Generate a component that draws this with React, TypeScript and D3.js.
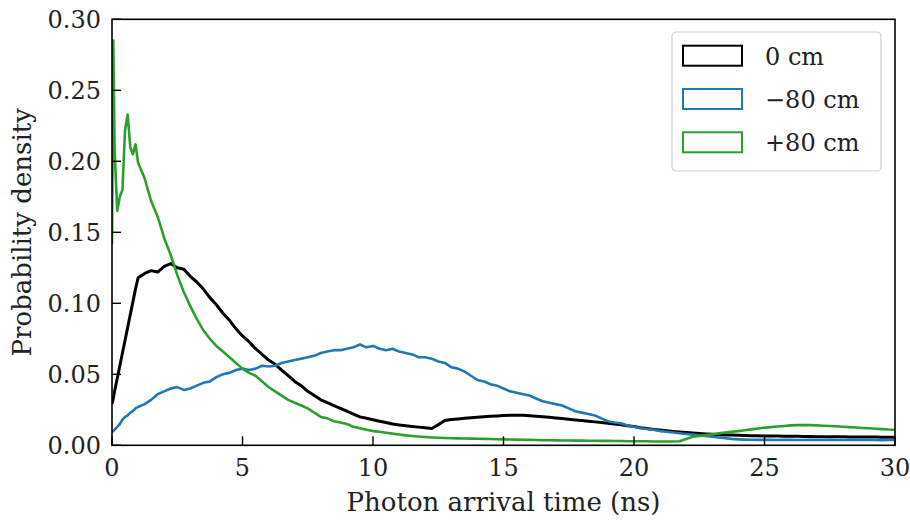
import React from "react";
import * as d3 from "d3";

// Bin times (ns): fine spacing over the first nanosecond, then 0.25 ns
const timeNs: number[] = [
  0, 0.05, 0.1, 0.2, 0.3, 0.4, 0.5, 0.6, 0.7, 0.8, 0.9,
  1, 1.25, 1.5, 1.75, 2, 2.25, 2.5, 2.75, 3, 3.25, 3.5, 3.75,
  4, 4.25, 4.5, 4.75, 5, 5.25, 5.5, 5.75, 6, 6.25, 6.5, 6.75,
  7, 7.25, 7.5, 7.75, 8, 8.25, 8.5, 8.75, 9, 9.25, 9.5, 9.75,
  10, 10.25, 10.5, 10.75, 11, 11.25, 11.5, 11.75, 12, 12.25, 12.5, 12.75,
  13, 13.25, 13.5, 13.75, 14, 14.25, 14.5, 14.75, 15, 15.25, 15.5, 15.75,
  16, 16.25, 16.5, 16.75, 17, 17.25, 17.5, 17.75, 18, 18.25, 18.5, 18.75,
  19, 19.25, 19.5, 19.75, 20, 20.25, 20.5, 20.75, 21, 21.25, 21.5, 21.75,
  22, 22.25, 22.5, 22.75, 23, 23.25, 23.5, 23.75, 24, 24.25, 24.5, 24.75,
  25, 25.25, 25.5, 25.75, 26, 26.25, 26.5, 26.75, 27, 27.25, 27.5, 27.75,
  28, 28.25, 28.5, 28.75, 29, 29.25, 29.5, 29.75, 30,
];

// Probability density, source at 0 cm
const density0cm: number[] = [
  0.029, 0.033, 0.038, 0.047, 0.056, 0.065, 0.074, 0.083, 0.092, 0.101, 0.110,
  0.118, 0.121, 0.123, 0.122,
  0.126, 0.128, 0.125, 0.124,
  0.119, 0.115, 0.110, 0.104,
  0.099, 0.093, 0.088, 0.082,
  0.077, 0.073, 0.068, 0.064,
  0.060, 0.057, 0.053, 0.049,
  0.045, 0.042, 0.038, 0.035,
  0.032, 0.030, 0.028, 0.026,
  0.024, 0.022, 0.020, 0.019,
  0.018, 0.017, 0.016, 0.015,
  0.0143, 0.0137, 0.0132, 0.0128,
  0.0124, 0.0118, 0.0145, 0.0175,
  0.0182, 0.0186, 0.0190, 0.0194,
  0.0198, 0.0201, 0.0204, 0.0207,
  0.0210, 0.0212, 0.0212, 0.0211,
  0.0208, 0.0205, 0.0201, 0.0197,
  0.0192, 0.0188, 0.0183, 0.0179,
  0.0174, 0.0169, 0.0165, 0.0160,
  0.0156, 0.0150, 0.0144, 0.0138,
  0.0132, 0.0124, 0.0118, 0.0112,
  0.0107, 0.0102, 0.0098, 0.0094,
  0.0090, 0.0087, 0.0083, 0.0080,
  0.0077, 0.0075, 0.0073, 0.0072,
  0.0070, 0.0069, 0.0068, 0.0067,
  0.0066, 0.0065, 0.0065, 0.0064,
  0.0063, 0.0063, 0.0062, 0.0062,
  0.0061, 0.0061, 0.0060, 0.0060,
  0.0060, 0.0059, 0.0059, 0.0058,
  0.0058, 0.0058, 0.0057, 0.0057,
  0.0057,
];

// Probability density, source at -80 cm
const densityMinus80: number[] = [
  0.0095, 0.010, 0.011, 0.013, 0.015, 0.018, 0.020, 0.021, 0.023, 0.024, 0.026,
  0.027, 0.029, 0.032, 0.036,
  0.038, 0.040, 0.041, 0.039,
  0.040, 0.042, 0.044, 0.045,
  0.048, 0.050, 0.051, 0.053,
  0.054, 0.053, 0.054, 0.056,
  0.0555, 0.056, 0.058, 0.059,
  0.060, 0.061, 0.062, 0.063,
  0.065, 0.066, 0.067, 0.067,
  0.068, 0.069, 0.071, 0.069,
  0.070, 0.068, 0.067, 0.068,
  0.066, 0.065, 0.064, 0.062,
  0.062, 0.061, 0.059, 0.058,
  0.055, 0.054, 0.052, 0.049,
  0.046, 0.045, 0.043, 0.042,
  0.040, 0.038, 0.037, 0.036,
  0.035, 0.033, 0.031, 0.030,
  0.029, 0.028, 0.026, 0.024,
  0.023, 0.022, 0.021, 0.019,
  0.017, 0.016, 0.0155, 0.014,
  0.013, 0.012, 0.0115, 0.011,
  0.010, 0.0095, 0.009, 0.0085,
  0.008, 0.0075, 0.007, 0.0065,
  0.006, 0.0055, 0.005, 0.0045,
  0.0042, 0.0040, 0.0039, 0.0038,
  0.0038, 0.0038, 0.0037, 0.0038,
  0.0038, 0.0037, 0.0037, 0.0038,
  0.0037, 0.0037, 0.0038, 0.0037,
  0.0037, 0.0037, 0.0037, 0.0037,
  0.0037, 0.0037, 0.0036, 0.0037,
  0.0037,
];

// Probability density, source at +80 cm
const densityPlus80: number[] = [
  0.142, 0.285, 0.208, 0.165, 0.175, 0.180, 0.222, 0.233, 0.210, 0.205, 0.212,
  0.199, 0.188, 0.172, 0.161,
  0.146, 0.134, 0.120, 0.108,
  0.098, 0.089, 0.081, 0.075,
  0.070, 0.066, 0.062, 0.058,
  0.054, 0.051, 0.049, 0.045,
  0.041, 0.038, 0.035, 0.032,
  0.030, 0.028, 0.026, 0.023,
  0.020, 0.019, 0.017, 0.016,
  0.015, 0.013, 0.012, 0.011,
  0.010, 0.0095, 0.0088, 0.0082,
  0.0076, 0.0070, 0.0066, 0.0062,
  0.0058, 0.0055, 0.0053, 0.0051,
  0.0050, 0.0049, 0.0048, 0.0047,
  0.0046, 0.0045, 0.0044, 0.0043,
  0.0042, 0.0041, 0.0040, 0.0039,
  0.0038, 0.0037, 0.0036, 0.0036,
  0.0035, 0.0034, 0.0034, 0.0033,
  0.0033, 0.0032, 0.0032, 0.0031,
  0.0031, 0.0030, 0.0030, 0.0029,
  0.0029, 0.0028, 0.0028, 0.0027,
  0.0027, 0.0027, 0.0027, 0.0028,
  0.0045, 0.0060, 0.0066, 0.0072,
  0.0078, 0.0084, 0.0090, 0.0095,
  0.0100, 0.0106, 0.0112, 0.0118,
  0.0124, 0.0128, 0.0132, 0.0136,
  0.0140, 0.0142, 0.0143, 0.0142,
  0.0140, 0.0138, 0.0136, 0.0134,
  0.0131, 0.0128, 0.0125, 0.0122,
  0.0120, 0.0117, 0.0114, 0.0111,
  0.0110,
];

const seriesLabels = ["0 cm", "\u221280 cm", "+80 cm"];
const seriesColors = ["#000000", "#1f77b4", "#2ca02c"];
const seriesWidths = [3, 2.6, 2.6];
const seriesValues = [density0cm, densityMinus80, densityPlus80];

const xTicks = [0, 5, 10, 15, 20, 25, 30];
const yTicks = [0, 0.05, 0.1, 0.15, 0.2, 0.25, 0.3];

const W = 910;
const H = 525;
const plot = { left: 112, right: 895, top: 19.3, bottom: 445.3 };
const TICK_LEN = 9;
const textStyle: React.CSSProperties = {
  fontFamily: '"DejaVu Serif", "Liberation Serif", serif',
  fill: "#222",
};

export default function App() {
  const x = d3.scaleLinear().domain([0, 30]).range([plot.left, plot.right]);
  const y = d3.scaleLinear().domain([0, 0.3]).range([plot.bottom, plot.top]);

  const line = d3
    .line<[number, number]>()
    .x((d) => x(d[0]))
    .y((d) => y(d[1]));

  const paths = seriesValues.map((vals) => {
    const n = Math.min(vals.length, timeNs.length);
    const pts: [number, number][] = [];
    for (let i = 0; i < n; i++) pts.push([timeNs[i], vals[i]]);
    return line(pts) || "";
  });

  const legend = { x: 672, y: 32, w: 209, h: 139 };
  const rowY = [55.7, 99, 142.3];

  return (
    <svg
      width={W}
      height={H}
      viewBox={`0 0 ${W} ${H}`}
      style={{ position: "absolute", left: 0, top: 0, background: "#fff" }}
    >
      <defs>
        <clipPath id="plot-clip">
          <rect
            x={plot.left}
            y={plot.top}
            width={plot.right - plot.left}
            height={plot.bottom - plot.top}
          />
        </clipPath>
      </defs>
      <rect x={0} y={0} width={W} height={H} fill="#fff" />

      <g clipPath="url(#plot-clip)">
        {paths.map((d, i) => (
          <path
            key={i}
            d={d}
            fill="none"
            stroke={seriesColors[i]}
            strokeWidth={seriesWidths[i]}
            strokeLinejoin="round"
          />
        ))}
      </g>

      {/* frame */}
      <rect
        x={plot.left}
        y={plot.top}
        width={plot.right - plot.left}
        height={plot.bottom - plot.top}
        fill="none"
        stroke="#000"
        strokeWidth={1.6}
      />

      {/* x ticks */}
      {xTicks.map((t) => (
        <g key={`x${t}`}>
          <line
            x1={x(t)}
            x2={x(t)}
            y1={plot.bottom}
            y2={plot.bottom - TICK_LEN}
            stroke="#000"
            strokeWidth={1.4}
          />
          <text x={x(t)} y={476} textAnchor="middle" fontSize={24} style={textStyle}>
            {String(t)}
          </text>
        </g>
      ))}

      {/* y ticks */}
      {yTicks.map((t) => (
        <g key={`y${t}`}>
          <line
            x1={plot.left}
            x2={plot.left + TICK_LEN}
            y1={y(t)}
            y2={y(t)}
            stroke="#000"
            strokeWidth={1.4}
          />
          <text x={101} y={y(t) + 9} textAnchor="end" fontSize={24} style={textStyle}>
            {d3.format(".2f")(t)}
          </text>
        </g>
      ))}

      {/* axis titles */}
      <text
        x={(plot.left + plot.right) / 2}
        y={511}
        textAnchor="middle"
        fontSize={26}
        style={textStyle}
      >
        Photon arrival time (ns)
      </text>
      <text
        transform={`translate(31, ${(plot.top + plot.bottom) / 2}) rotate(-90)`}
        textAnchor="middle"
        fontSize={26}
        style={textStyle}
      >
        Probability density
      </text>

      {/* legend */}
      <rect
        x={legend.x}
        y={legend.y}
        width={legend.w}
        height={legend.h}
        rx={4}
        fill="#fff"
        fillOpacity={0.8}
        stroke="#d0d0d0"
        strokeWidth={1.2}
      />
      {seriesLabels.map((lab, i) => (
        <g key={lab}>
          <rect
            x={683}
            y={rowY[i] - 10}
            width={59}
            height={20}
            fill="none"
            stroke={seriesColors[i]}
            strokeWidth={2}
          />
          <text x={765} y={rowY[i] + 9} fontSize={24} style={textStyle}>
            {lab}
          </text>
        </g>
      ))}
    </svg>
  );
}
